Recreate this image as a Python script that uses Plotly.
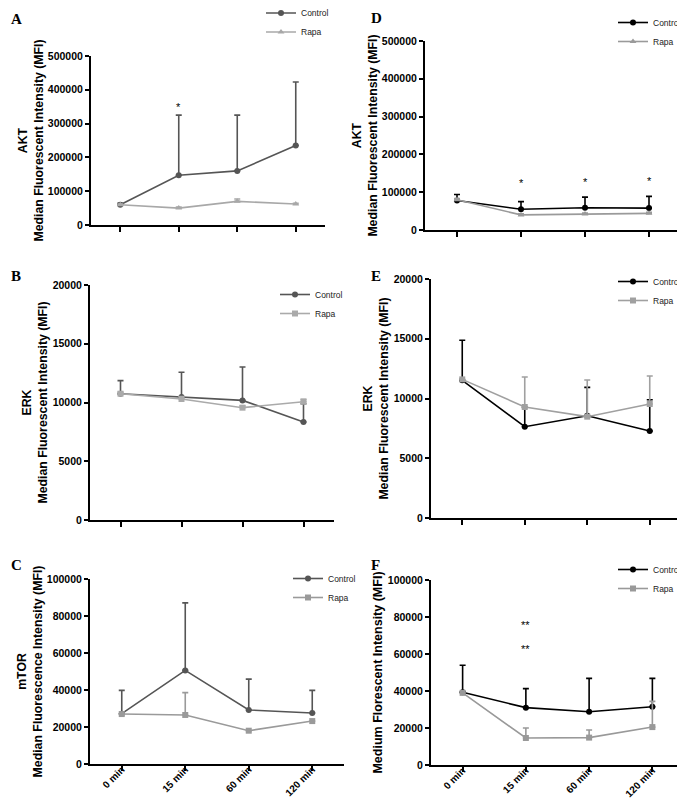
import plotly.graph_objects as go

# ---------------- data ----------------
time_labels = ["0 min", "15 min", "60 min", "120 min"]

akt_ticks = [0, 100000, 200000, 300000, 400000, 500000]
erk_ticks = [0, 5000, 10000, 15000, 20000]
mtor_ticks = [0, 20000, 40000, 60000, 80000, 100000]

# Panel A: AKT (Median Fluorescent Intensity)
akt_a_control = [60000, 147000, 160000, 235000]
akt_a_control_sd = [4000, 178000, 165000, 188000]
akt_a_rapa = [60000, 50000, 70000, 62000]
akt_a_rapa_sd = [2000, 3000, 7000, 2000]

# Panel B: ERK
erk_b_control = [10750, 10470, 10180, 8340]
erk_b_control_sd = [1110, 2100, 2840, 1560]
erk_b_rapa = [10750, 10300, 9560, 10070]
erk_b_rapa_sd = [150, 200, 150, 200]

# Panel C: mTOR
mtor_c_control = [27200, 50600, 29200, 27600]
mtor_c_control_sd = [12600, 36500, 16700, 12200]
mtor_c_rapa = [27000, 26500, 18000, 23200]
mtor_c_rapa_sd = [0, 12100, 0, 0]

# Panel D: AKT
akt_d_control = [78000, 55000, 59000, 58000]
akt_d_control_sd = [16000, 20000, 28000, 31000]
akt_d_rapa = [80000, 40000, 42000, 44000]
akt_d_rapa_sd = [3000, 3000, 3000, 3000]

# Panel E: ERK
erk_e_control = [11520, 7640, 8560, 7280]
erk_e_control_sd = [3350, 1620, 2370, 2620]
erk_e_rapa = [11600, 9290, 8480, 9540]
erk_e_rapa_sd = [0, 2510, 3070, 2340]

# Panel F: mTOR
mtor_f_control = [39300, 31000, 28800, 31500]
mtor_f_control_sd = [14600, 10300, 18000, 15300]
mtor_f_rapa = [39000, 14600, 14800, 20500]
mtor_f_rapa_sd = [0, 5400, 4100, 13900]

# significance marks: (panel, category, y, text)
sig_marks = [
    ("A", "15 min", 349000, "*"),
    ("D", "15 min", 124000, "*"),
    ("D", "60 min", 128000, "*"),
    ("D", "120 min", 130000, "*"),
    ("F", "15 min", 75500, "**"),
    ("F", "15 min", 62500, "**"),
]

FONT = "Liberation Sans, Arial, sans-serif"
W, H = 685, 800

def px_x(p):
    return p / W

def px_y(p):
    return 1 - p / H

panels = {
    "A": dict(i=1, xp=(83, 317), yp=(48, 217), ticks=akt_ticks, tsize=12.3,
              title="<b>AKT</b><br><b>Median Fluorescent Intensity (MFI)</b>",
              cc="#555555", rc="#a8a8a8", rs="triangle-up",
              ctl=akt_a_control, ctl_sd=akt_a_control_sd, rap=akt_a_rapa, rap_sd=akt_a_rapa_sd,
              leg=(253, -9.5), letter=(1, 11), xlabels=False),
    "B": dict(i=2, xp=(82, 326), yp=(277, 512), ticks=erk_ticks, tsize=12.3,
              title="<b>ERK</b><br><b>Median Fluorescent Intensity (MFI)</b>",
              cc="#555555", rc="#aaaaaa", rs="square",
              ctl=erk_b_control, ctl_sd=erk_b_control_sd, rap=erk_b_rapa, rap_sd=erk_b_rapa_sd,
              leg=(267, 272), letter=(1, 268), xlabels=False),
    "C": dict(i=3, xp=(82, 336), yp=(571, 756), ticks=mtor_ticks, tsize=12.3,
              title="<b>mTOR</b><br><b>Median Fluorescence Intensity (MFI)</b>",
              cc="#555555", rc="#9a9a9a", rs="square",
              ctl=mtor_c_control, ctl_sd=mtor_c_control_sd, rap=mtor_c_rapa, rap_sd=mtor_c_rapa_sd,
              leg=(280, 556), letter=(1, 557), xlabels=True),
    "D": dict(i=4, xp=(417, 673), yp=(33, 222), ticks=akt_ticks, tsize=12.3,
              title="<b>AKT</b><br><b>Median Fluorescent Intensity (MFI)</b>",
              cc="#000000", rc="#9a9a9a", rs="triangle-up",
              ctl=akt_d_control, ctl_sd=akt_d_control_sd, rap=akt_d_rapa, rap_sd=akt_d_rapa_sd,
              leg=(605, 0), letter=(361, 10), xlabels=False),
    "E": dict(i=5, xp=(423, 673), yp=(271, 510), ticks=erk_ticks, tsize=12.3,
              title="<b>ERK</b><br><b>Median Fluorescent Intensity (MFI)</b>",
              cc="#000000", rc="#a0a0a0", rs="square",
              ctl=erk_e_control, ctl_sd=erk_e_control_sd, rap=erk_e_rapa, rap_sd=erk_e_rapa_sd,
              leg=(605, 259), letter=(361, 268), xlabels=False),
    "F": dict(i=6, xp=(423, 676), yp=(572, 757), ticks=mtor_ticks, tsize=12.5,
              title="<b>Medium Florescent Intensity (MFI)</b>",
              cc="#000000", rc="#999999", rs="square",
              ctl=mtor_f_control, ctl_sd=mtor_f_control_sd, rap=mtor_f_rapa, rap_sd=mtor_f_rapa_sd,
              leg=(605, 547), letter=(361, 557), xlabels=True),
}

fig = go.Figure()
annotations = []
layout = {}

for name, p in panels.items():
    i = p["i"]
    sfx = "" if i == 1 else str(i)
    xa, ya = "x" + sfx, "y" + sfx
    leg = "legend" if i == 1 else "legend" + str(i)
    for label, vals, sd, col, sym in [
        ("Control", p["ctl"], p["ctl_sd"], p["cc"], "circle"),
        ("Rapa", p["rap"], p["rap_sd"], p["rc"], p["rs"]),
    ]:
        fig.add_trace(go.Scatter(
            x=time_labels, y=vals, name=label, mode="lines+markers",
            xaxis=xa, yaxis=ya, legend=leg,
            line=dict(color=col, width=1.6),
            marker=dict(color=col, symbol=sym, size=6),
            error_y=dict(type="data", symmetric=False, array=sd,
                         arrayminus=[0] * len(sd), color=col,
                         thickness=1.6, width=3),
        ))
    layout["xaxis" + sfx] = dict(
        domain=[px_x(p["xp"][0]), px_x(p["xp"][1])], anchor=ya,
        type="category", categoryorder="array", categoryarray=time_labels,
        range=[-0.5, 3.5], showline=True, linecolor="black", linewidth=2,
        ticks="outside", ticklen=5, tickwidth=1.5, tickcolor="black",
        showgrid=False, zeroline=False, showticklabels=p["xlabels"],
        tickmode="array", tickvals=time_labels,
        ticktext=["<b>" + t + "</b>" for t in time_labels],
        ticklabelstandoff=-11,
        tickangle=-45, tickfont=dict(family=FONT, size=10, color="black"),
    )
    layout["yaxis" + sfx] = dict(
        domain=[px_y(p["yp"][1]), px_y(p["yp"][0])], anchor=xa,
        range=[0, p["ticks"][-1]],
        tickmode="array", tickvals=p["ticks"],
        ticktext=["<b>" + str(t) + "</b>" for t in p["ticks"]],
        showline=True, linecolor="black", linewidth=2,
        ticks="outside", ticklen=4, tickwidth=1.5, tickcolor="black",
        showgrid=False, zeroline=False,
        tickfont=dict(family=FONT, size=10.5, color="black"),
        title=dict(text=p["title"], standoff=2,
                   font=dict(family=FONT, size=p["tsize"], color="black")),
    )
    layout[leg] = dict(
        x=px_x(p["leg"][0]), y=px_y(p["leg"][1]), xanchor="left", yanchor="top",
        bgcolor="rgba(0,0,0,0)", borderwidth=0, itemwidth=30,
        font=dict(family=FONT, size=8.5, color="#222222"),
        tracegroupgap=0,
    )
    annotations.append(dict(
        x=px_x(p["letter"][0]), y=px_y(p["letter"][1]), xref="paper", yref="paper",
        text="<b>" + name + "</b>", showarrow=False, xanchor="left", yanchor="middle",
        font=dict(family="Liberation Serif, Times New Roman, serif", size=15, color="black"),
    ))

for name, cat, yv, txt in sig_marks:
    i = panels[name]["i"]
    sfx = "" if i == 1 else str(i)
    annotations.append(dict(
        x=cat, y=yv, xref="x" + sfx, yref="y" + sfx, text=txt, showarrow=False,
        font=dict(family=FONT, size=11, color="black"),
    ))

fig.update_layout(
    width=W, height=H, margin=dict(l=0, r=0, t=0, b=0, autoexpand=False),
    paper_bgcolor="white", plot_bgcolor="white",
    showlegend=True, annotations=annotations, **layout,
)

fig.write_html("out.html")
